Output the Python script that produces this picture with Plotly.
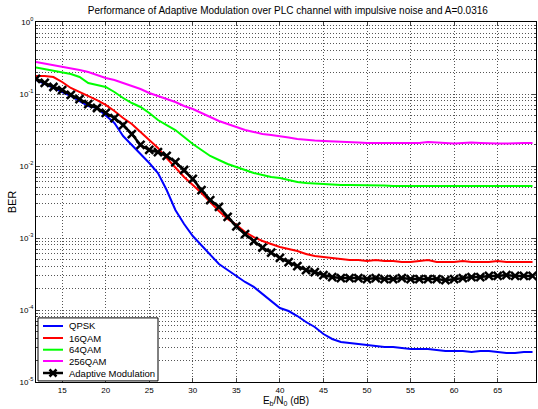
import plotly.graph_objects as go

ebn0 = list(range(12, 70))

ber_qpsk = [0.1564, 0.1377, 0.1212, 0.1066, 0.0938, 0.0799, 0.0681, 0.0639, 0.0495, 0.0396,
            0.0261, 0.0196, 0.01468, 0.01101, 0.00799, 0.00464, 0.00245, 0.001564, 0.001066, 0.000799,
            0.000581, 0.000435, 0.000359, 0.000297, 0.000245, 0.000209, 0.000167, 0.000133, 0.0001066, 0.0000968,
            0.0000825, 0.0000681, 0.0000581, 0.0000464, 0.0000396, 0.0000359, 0.0000348, 0.0000337, 0.0000327, 0.0000316,
            0.0000306, 0.0000306, 0.0000297, 0.0000287, 0.0000287, 0.0000287, 0.0000278, 0.0000269, 0.0000269, 0.0000269,
            0.0000261, 0.0000269, 0.0000269, 0.0000261, 0.0000253, 0.0000253, 0.0000261, 0.0000261]

ber_16qam = [0.1778, 0.1778, 0.1722, 0.1468, 0.1212, 0.1066, 0.0938, 0.0825, 0.0704, 0.0581,
             0.0464, 0.0383, 0.0297, 0.0230, 0.0178, 0.0129, 0.00938, 0.00704, 0.00545, 0.00422,
             0.00316, 0.00237, 0.00184, 0.00152, 0.00121, 0.00103, 0.000908, 0.000825, 0.000750, 0.000704,
             0.000660, 0.000599, 0.000562, 0.000545, 0.000528, 0.000511, 0.000495, 0.000495, 0.000479, 0.000495,
             0.000479, 0.000479, 0.000464, 0.000464, 0.000479, 0.000495, 0.000464, 0.000464, 0.000464, 0.000479,
             0.000464, 0.000464, 0.000464, 0.000479, 0.000464, 0.000464, 0.000464, 0.000464]

ber_64qam = [0.2334, 0.2225, 0.2121, 0.2020, 0.1896, 0.1722, 0.1422, 0.1334, 0.1251, 0.1066,
             0.0880, 0.0750, 0.0660, 0.0545, 0.0435, 0.0371, 0.0316, 0.0253, 0.0202, 0.0167,
             0.01377, 0.01212, 0.01066, 0.00968, 0.00880, 0.00799, 0.00750, 0.00704, 0.00681, 0.00639,
             0.00599, 0.00581, 0.00570, 0.00562, 0.00553, 0.00545, 0.00545, 0.00545, 0.00537, 0.00537,
             0.00537, 0.00528, 0.00528, 0.00528, 0.00528, 0.00537, 0.00537, 0.00537, 0.00537, 0.00537,
             0.00537, 0.00528, 0.00528, 0.00537, 0.00537, 0.00528, 0.00528, 0.00528]

ber_256qam = [0.2783, 0.2652, 0.2528, 0.2409, 0.2297, 0.2154, 0.2020, 0.1836, 0.1668, 0.1564,
              0.1422, 0.1292, 0.1173, 0.1032, 0.0938, 0.0852, 0.0774, 0.0681, 0.0619, 0.0545,
              0.0479, 0.0422, 0.0383, 0.0348, 0.0316, 0.0297, 0.0278, 0.0269, 0.0261, 0.0249,
              0.0237, 0.0230, 0.0226, 0.0223, 0.0219, 0.0215, 0.0215, 0.0212, 0.0209, 0.0209,
              0.0205, 0.0209, 0.0209, 0.0205, 0.0209, 0.0215, 0.0212, 0.0209, 0.0205, 0.0209,
              0.0212, 0.0209, 0.0205, 0.0205, 0.0205, 0.0209, 0.0209, 0.0209]

ber_adaptive = [0.1616, 0.1422, 0.1251, 0.1136, 0.0969, 0.0852, 0.0726, 0.0639, 0.0545, 0.0464,
                0.0371, 0.0278, 0.0196, 0.0167, 0.0156, 0.0138, 0.01136, 0.00880, 0.00660, 0.00464,
                0.00337, 0.00270, 0.00196, 0.00145, 0.00113, 0.000903, 0.000734, 0.000627, 0.000528, 0.000464,
                0.000408, 0.000359, 0.000337, 0.000306, 0.000287, 0.000278, 0.000278, 0.000278, 0.000269, 0.000278,
                0.000269, 0.000269, 0.000278, 0.000269, 0.000269, 0.000269, 0.000269, 0.000260, 0.000269, 0.000278,
                0.000287, 0.000287, 0.000297, 0.000297, 0.000306, 0.000297, 0.000297, 0.000297]

series_names = ["QPSK", "16QAM", "64QAM", "256QAM", "Adaptive Modulation"]
series_values = [ber_qpsk, ber_16qam, ber_64qam, ber_256qam, ber_adaptive]
series_colors = ["#0000FF", "#FF0000", "#00FF00", "#FF00FF", "#000000"]

y_tick_vals = [1e-5, 1e-4, 1e-3, 1e-2, 1e-1, 1]
y_tick_text = ["10<sup>-5</sup>", "10<sup>-4</sup>", "10<sup>-3</sup>",
               "10<sup>-2</sup>", "10<sup>-1</sup>", "10<sup>0</sup>"]
x_tick_vals = [15, 20, 25, 30, 35, 40, 45, 50, 55, 60, 65]

minor_vals = [k * 10.0 ** e for e in range(-5, 0) for k in range(2, 10)]

fig = go.Figure()
for name, vals, col in zip(series_names, series_values, series_colors):
    if name == "Adaptive Modulation":
        fig.add_trace(go.Scatter(x=ebn0, y=vals, name=name, mode="lines+markers",
                                 line=dict(color=col, width=2.5),
                                 marker=dict(symbol="x-thin", size=8, color=col,
                                             line=dict(color=col, width=2.5)),
                                 showlegend=False))
    else:
        fig.add_trace(go.Scatter(x=ebn0, y=vals, name=name, mode="lines",
                                 line=dict(color=col, width=2), showlegend=False))

# Legend box drawn in paper coordinates (compact, MATLAB-style)
shapes = [dict(type="rect", xref="paper", yref="paper", x0=0.004, x1=0.244, y0=0.003, y1=0.178,
               fillcolor="white", line=dict(color="black", width=1), layer="above")]
annotations = []
leg_y = [0.1556, 0.1222, 0.0897, 0.0583, 0.025]
for name, col, yy in zip(series_names, series_colors, leg_y):
    w = 2.5 if name == "Adaptive Modulation" else 2
    shapes.append(dict(type="line", xref="paper", yref="paper", x0=0.014, x1=0.054, y0=yy, y1=yy,
                       line=dict(color=col, width=w), layer="above"))
    annotations.append(dict(text=name, xref="paper", yref="paper", x=0.062, y=yy,
                            xanchor="left", yanchor="middle", showarrow=False,
                            font=dict(size=9.5, color="black")))
    if name == "Adaptive Modulation":
        for s in (1, -1):
            shapes.append(dict(type="line", xref="paper", yref="paper",
                               x0=0.034 - 0.007, x1=0.034 + 0.007,
                               y0=yy - s * 0.0097, y1=yy + s * 0.0097,
                               line=dict(color=col, width=2.5), layer="above"))

font_family = "Liberation Sans, Arial, sans-serif"
grid_color = "#555555"
grid_dash = "1px,2px"
fig.update_layout(
    width=538, height=409,
    margin=dict(l=36, r=2, t=22, b=27),
    paper_bgcolor="white", plot_bgcolor="white",
    font=dict(family=font_family, size=8, color="black"),
    title=dict(text="Performance of Adaptive Modulation over PLC channel with impulsive noise and A=0.0316",
               x=0.535, xanchor="center", y=0.975, yanchor="middle",
               font=dict(size=10, color="black")),
    showlegend=False,
    shapes=shapes,
    annotations=annotations,
)
fig.update_xaxes(
    range=[12, 69.4], tickvals=x_tick_vals, ticks="inside", ticklen=4,
    showline=True, linecolor="black", linewidth=1, mirror="allticks",
    showgrid=True, gridcolor=grid_color, griddash=grid_dash, gridwidth=1,
    zeroline=False,
    title=dict(text="E<sub>b</sub>/N<sub>0</sub> (dB)", font=dict(size=10), standoff=3),
)
fig.update_yaxes(
    type="log", range=[-5, 0], tickvals=y_tick_vals, ticktext=y_tick_text,
    ticks="inside", ticklen=4,
    showline=True, linecolor="black", linewidth=1, mirror="allticks",
    showgrid=True, gridcolor=grid_color, griddash=grid_dash, gridwidth=1,
    zeroline=False,
    minor=dict(tickvals=minor_vals, ticks="inside", ticklen=2, showgrid=True,
               gridcolor=grid_color, griddash=grid_dash, gridwidth=1),
    title=dict(text="BER", font=dict(size=11), standoff=0),
)

fig.write_html("out.html")
